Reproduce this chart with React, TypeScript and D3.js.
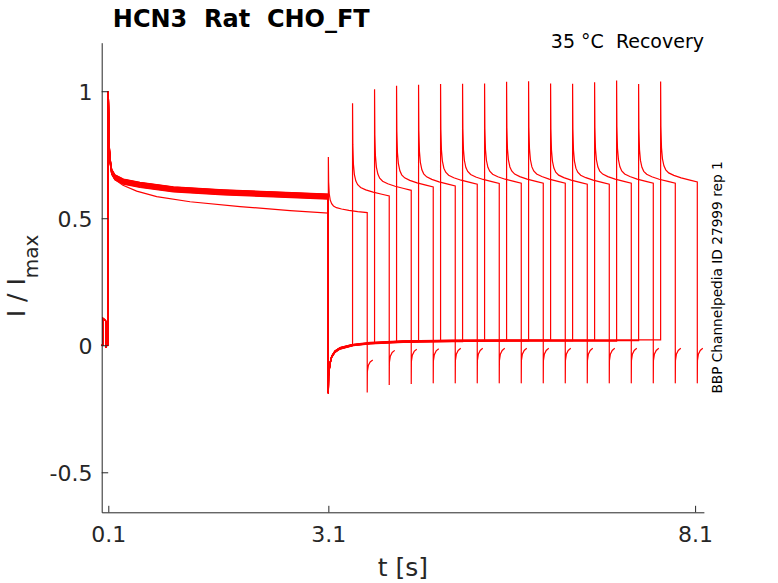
import React, { useRef, useEffect } from 'react';
import * as d3 from 'd3';

const width = 778;
const height = 583;

// holding segment before the conditioning step (t < 0.1 s), shared by all sweeps
const preT = [0.01, 0.027, 0.028, 0.05, 0.065, 0.066, 0.075, 0.099];
const preV = [0, 0, 0.105, 0.1, 0.095, -0.01, 0, 0];

// conditioning pulse, band of sweeps 1..15
const p1UpperT = [0.1, 0.11, 0.123, 0.146, 0.19, 0.305, 0.532, 0.987, 1.67, 2.35, 3.1];
const p1UpperV = [1.0, 0.795, 0.73, 0.683, 0.661, 0.644, 0.631, 0.614, 0.602, 0.594, 0.585];
const bandOffsets = [0.009, -0.008, 0.004, -0.003, 0.007, -0.01, 0.001, 0.008, -0.005, 0.003, -0.001, 0.005, -0.007, 0.0, 0.01];

// conditioning pulse, sweep 0 (lower trace)
const p1LowerT = [0.1, 0.11, 0.123, 0.146, 0.19, 0.3, 0.487, 0.76, 1.215, 1.896, 2.578, 3.1];
const p1LowerV = [1.0, 0.79, 0.725, 0.675, 0.652, 0.63, 0.607, 0.585, 0.565, 0.546, 0.53, 0.52];

// tail current after the conditioning pulse
const tailT = [3.1, 3.103, 3.123, 3.146, 3.19, 3.26, 3.44, 3.67, 4.12, 4.8, 5.6, 6.5, 7.7];
const tailV = [-0.189, -0.12, -0.071, -0.045, -0.025, -0.012, 0.001, 0.008, 0.014, 0.017, 0.018, 0.018, 0.018];
const tailOffsets = [0.003, -0.002, 0.001, -0.001, 0.002, -0.003, 0, 0.002, -0.001, 0.001, 0, 0.001, -0.002, 0, 0.003];

// test pulses, one per sweep
const p2Starts = [3.1, 3.43, 3.73, 4.03, 4.33, 4.63, 4.93, 5.23, 5.53, 5.83, 6.13, 6.43, 6.73, 7.03, 7.33, 7.63];
const p2Stops = [3.63, 3.93, 4.23, 4.53, 4.83, 5.13, 5.43, 5.73, 6.03, 6.33, 6.63, 6.93, 7.23, 7.53, 7.83, 8.13];
const p2Peaks = [0.741, 0.953, 1.008, 1.022, 1.025, 1.028, 1.029, 1.03, 1.037, 1.039, 1.03, 1.029, 1.035, 1.042, 1.028, 1.038];
const p2Ends = [0.522, 0.588, 0.61, 0.623, 0.627, 0.634, 0.637, 0.638, 0.638, 0.638, 0.634, 0.634, 0.638, 0.638, 0.638, 0.643];

// inactivation shape of a test pulse (fraction between peak and end level)
const decayDt = [0, 0.004, 0.012, 0.025, 0.045, 0.07, 0.11, 0.18, 0.28, 0.4];
const decayFrac = [1, 0.55, 0.34, 0.23, 0.16, 0.12, 0.09, 0.065, 0.04, 0.018];

// tail hook after each test pulse
const hookDt = [0, 0.002, 0.015, 0.04, 0.075];
const hookFrac = [1, 0.35, 0.17, 0.06, 0];
const hookBottoms = [-0.186, -0.156, -0.152, -0.15, -0.15, -0.15, -0.15, -0.15, -0.15, -0.15, -0.15, -0.15, -0.15, -0.15, -0.15, -0.15];
const hookEnds = [-0.058, -0.02, -0.016, -0.014, -0.012, -0.012, -0.012, -0.012, -0.012, -0.012, -0.012, -0.012, -0.012, -0.012, -0.012, -0.012];

const xTicks = [0.1, 3.1, 8.1];
const yTicks = [-0.5, 0, 0.5, 1];

const font = 'DejaVu Sans, sans-serif';
const axisColor = '#262626';

function buildSweep(k: number): [number, number][] {
  const pts: [number, number][] = preT.map((t, i) => [t, preV[i]]);
  if (k === 0) {
    p1LowerT.forEach((t, i) => pts.push([t, p1LowerV[i]]));
  } else {
    p1UpperT.forEach((t, i) => pts.push([t, p1UpperV[i] + (i === 0 ? 0 : bandOffsets[k - 1])]));
    const tailAt = d3.scaleLinear(tailT, tailV);
    const off = tailOffsets[k - 1];
    tailT.forEach((t, i) => {
      if (t < p2Starts[k]) pts.push([t, tailV[i] + (i === 0 ? 0 : off)]);
    });
    pts.push([p2Starts[k], tailAt(p2Starts[k]) + off]);
  }
  const s = p2Starts[k];
  const e = p2Stops[k];
  const pk = p2Peaks[k];
  const lv = p2Ends[k];
  decayDt.forEach((dt, i) => pts.push([s + dt, lv + (pk - lv) * decayFrac[i]]));
  pts.push([e, lv]);
  hookDt.forEach((dt, i) =>
    pts.push([e + dt, hookEnds[k] + (hookBottoms[k] - hookEnds[k]) * hookFrac[i]])
  );
  return pts;
}

const App: React.FC = () => {
  const svgRef = useRef<SVGSVGElement>(null);

  const x = d3.scaleLinear().domain([0.01, 8.22]).range([101.7, 703.9]);
  const y = d3.scaleLinear().domain([-0.6575, 1.191]).range([512.3, 42.7]);

  useEffect(() => {
    if (!svgRef.current) return;
    const svg = d3.select(svgRef.current);
    svg.selectAll('.axis').remove();

    const gx = svg.append('g')
      .attr('class', 'axis')
      .attr('transform', `translate(0,${y.range()[0]})`)
      .call(
        d3.axisBottom(x)
          .tickValues(xTicks)
          .tickFormat(d => String(d))
          .tickSizeInner(-6.5)
          .tickSizeOuter(0)
          .tickPadding(14.4)
      );

    const gy = svg.append('g')
      .attr('class', 'axis')
      .attr('transform', `translate(${x.range()[0]},0)`)
      .call(
        d3.axisLeft(y)
          .tickValues(yTicks)
          .tickFormat(d => String(d))
          .tickSizeInner(-6.5)
          .tickSizeOuter(0)
          .tickPadding(9.2)
      );

    [gx, gy].forEach(g => {
      g.attr('color', axisColor)
        .attr('font-family', font)
        .attr('font-size', 22);
      g.selectAll('path, line').attr('stroke-width', 1);
    });
    gy.selectAll('text').attr('dy', '0.36em');
  }, []);

  const line = d3.line<[number, number]>()
    .x(d => x(d[0]))
    .y(d => y(d[1]));

  const sweeps = p2Starts.map((_, k) => buildSweep(k));

  return (
    <svg
      ref={svgRef}
      width={width}
      height={height}
      style={{ position: 'absolute', left: 0, top: 0, background: '#fff' }}
    >
      <rect width={width} height={height} fill="#fff" />
      {sweeps.map((pts, k) => (
        <path key={k} d={line(pts) || ''} fill="none" stroke="#ff0000" strokeWidth={1.2} />
      ))}

      <text x={112.8} y={26.7} fontFamily={font} fontWeight="bold" fontSize={24} fill="#000">
        HCN3{'\u00a0\u00a0'}Rat{'\u00a0\u00a0'}CHO_FT
      </text>
      <text x={704} y={48} textAnchor="end" fontFamily={font} fontSize={19} fill="#000">
        35 °C{'\u00a0\u00a0'}Recovery
      </text>
      <text
        transform="translate(721.5,277.5) rotate(-90)"
        textAnchor="middle"
        fontFamily={font}
        fontSize={13.7}
        fill="#000"
      >
        BBP Channelpedia ID 27999 rep 1
      </text>

      <text
        transform="translate(25,276) rotate(-90)"
        textAnchor="middle"
        fontFamily={font}
        fontSize={25}
        fill={axisColor}
      >
        I / I
        <tspan fontSize={20} dy={13}>max</tspan>
      </text>
      <text x={402.8} y={576} textAnchor="middle" fontFamily={font} fontSize={25} fill={axisColor}>
        t [s]
      </text>
    </svg>
  );
};

export default App;
